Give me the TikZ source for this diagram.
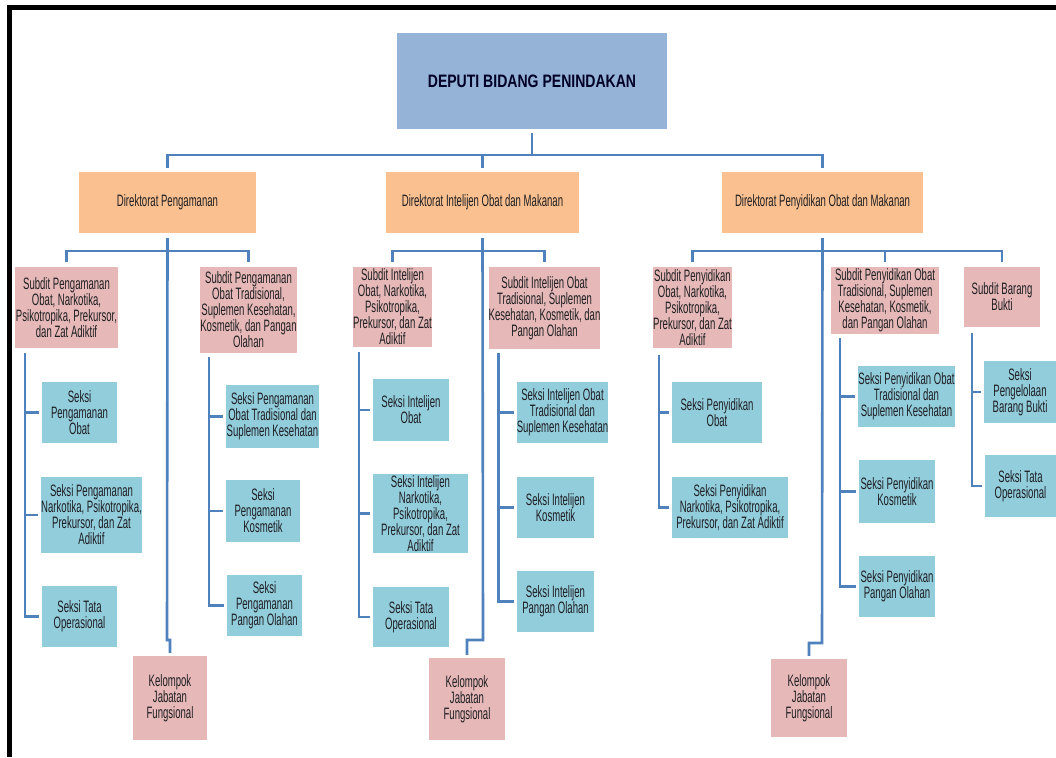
\documentclass[tikz,border=0pt]{standalone}
\usepackage{fontspec}
\setmainfont{Liberation Sans}[FakeStretch=0.58]
\newfontfamily\judulfont{Liberation Sans}[FakeStretch=0.78]
\usepackage{tikz}
\usetikzlibrary{calc,positioning}
\definecolor{cGaris}{RGB}{79,129,189}
\definecolor{cDeputi}{RGB}{149,179,215}
\definecolor{cDir}{RGB}{250,192,143}
\definecolor{cSub}{RGB}{230,185,184}
\definecolor{cSeksi}{RGB}{146,205,220}
\definecolor{cTeks}{RGB}{30,30,34}

\tikzset{
    kotak/.style={inner sep=0pt, align=center, text=cTeks},
    ukuran/.style 2 args={minimum width=#1pt, minimum height=#2pt},
    deputi/.style={kotak, fill=cDeputi, font=\judulfont\bfseries\fontsize{18}{20}\selectfont, text=black!85!blue},
    direktorat/.style={kotak, fill=cDir},
    subdit/.style={kotak, fill=cSub},
    seksi/.style={kotak, fill=cSeksi},
    garis/.style={draw=cGaris, line width=2.6pt}
}

\begin{document}
\begin{tikzpicture}[x=1pt, y=-1pt, font=\fontsize{16.5}{16}\selectfont]
    \useasboundingbox (0,0) rectangle (1056,757);
    \fill[white] (0,0) rectangle (1056,757);
    % bingkai
    \fill[black] (7,5) rectangle (1056,10);
    \fill[black] (7,5) rectangle (12,757);

    % deputi dan direktorat
    \node[deputi, ukuran={270}{96}] (dep) at (532,81) {DEPUTI BIDANG PENINDAKAN};
    \node[direktorat, ukuran={177}{61}] (dirA) at (167.5,202.5) {Direktorat Pengamanan};
    \node[direktorat, ukuran={193}{61}] (dirB) at (482.5,202.5) {Direktorat Intelijen Obat dan Makanan};
    \node[direktorat, ukuran={201}{61}] (dirC) at (822.5,202.5) {Direktorat Penyidikan Obat dan Makanan};

    \coordinate (busDep) at (532,155);
    \draw[garis] ([yshift=-4pt]dep.south) -- (busDep);
    \draw[garis] ([yshift=4pt]dirA.north) |- (busDep) -| ([yshift=4pt]dirC.north);
    \draw[garis] ([yshift=4pt]dirB.north) -- (dirB.north |- busDep);

    % direktorat pengamanan
    \node[subdit, ukuran={103}{81}] (sA1) at (66.5,307.5) {Subdit Pengamanan\\Obat, Narkotika,\\Psikotropika, Prekursor,\\dan Zat Adiktif};
    \node[subdit, ukuran={97}{86}] (sA2) at (248.5,310) {Subdit Pengamanan\\Obat Tradisional,\\Suplemen Kesehatan,\\Kosmetik, dan Pangan\\Olahan};
    \node[seksi, ukuran={75}{61}] (eA1) at (79.5,412.5) {Seksi\\Pengamanan\\Obat};
    \node[seksi, ukuran={99}{76}] (eA2) at (91.5,515) {Seksi Pengamanan\\Narkotika, Psikotropika,\\Prekursor, dan Zat\\Adiktif};
    \node[seksi, ukuran={75}{61}] (eA3) at (79.5,616.5) {Seksi Tata\\Operasional};
    \node[seksi, ukuran={93}{63}] (eA4) at (272.5,416.5) {Seksi Pengamanan\\Obat Tradisional dan\\Suplemen Kesehatan};
    \node[seksi, ukuran={74}{62}] (eA5) at (263,511) {Seksi\\Pengamanan\\Kosmetik};
    \node[seksi, ukuran={75}{61}] (eA6) at (264.5,605.5) {Seksi\\Pengamanan\\Pangan Olahan};
    \node[subdit, ukuran={74}{84}] (kA) at (170,698) {Kelompok\\Jabatan\\Fungsional};

    \coordinate (busA) at (167,251);
    \coordinate (belokA) at (167,640);
    \draw[garis] ([yshift=-5pt]dirA.south) -- (belokA) -| ([yshift=3pt]kA.north);
    \draw[garis] ([yshift=5pt]sA1.north) |- (busA) -| ([yshift=5pt]sA2.north);
    \coordinate (spA1) at ([xshift=10pt,yshift=-5pt]sA1.south west);
    \coordinate (spA2) at ([xshift=9pt,yshift=-4pt]sA2.south west);
    \draw[garis] (spA1) |- ([xshift=-3pt]eA3.west);
    \draw[garis] (spA2) |- ([xshift=-3pt]eA6.west);
    \foreach \s in {eA1,eA2} \draw[garis] (spA1 |- \s.west) -- ([xshift=-3pt]\s.west);
    \foreach \s in {eA4,eA5} \draw[garis] (spA2 |- \s.west) -- ([xshift=-3pt]\s.west);

    % direktorat intelijen
    \node[subdit, ukuran={79}{80}] (sB1) at (392.5,307) {Subdit Intelijen\\Obat, Narkotika,\\Psikotropika,\\Prekursor, dan Zat\\Adiktif};
    \node[subdit, ukuran={111}{82}] (sB2) at (544.5,308) {Subdit Intelijen Obat\\Tradisional, Suplemen\\Kesehatan, Kosmetik, dan\\Pangan Olahan};
    \node[seksi, ukuran={76}{62}] (eB1) at (411,410) {Seksi Intelijen\\Obat};
    \node[seksi, ukuran={95}{79}] (eB2) at (420.5,513.5) {Seksi Intelijen\\Narkotika,\\Psikotropika,\\Prekursor, dan Zat\\Adiktif};
    \node[seksi, ukuran={76}{60}] (eB3) at (411,617) {Seksi Tata\\Operasional};
    \node[seksi, ukuran={91}{61}] (eB4) at (562.5,412.5) {Seksi Intelijen Obat\\Tradisional dan\\Suplemen Kesehatan};
    \node[seksi, ukuran={77}{61}] (eB5) at (555.5,507.5) {Seksi Intelijen\\Kosmetik};
    \node[seksi, ukuran={77}{61}] (eB6) at (555.5,601.5) {Seksi Intelijen\\Pangan Olahan};
    \node[subdit, ukuran={76}{82}] (kB) at (467,699) {Kelompok\\Jabatan\\Fungsional};

    \coordinate (busB) at (483,251);
    \coordinate (belokB) at (483,640);
    \draw[garis] ([yshift=-5pt]dirB.south) -- (belokB) -| ([yshift=3pt]kB.north);
    \draw[garis] ([yshift=5pt]sB1.north) |- (busB) -| ([yshift=5pt]sB2.north);
    \coordinate (spB1) at ([xshift=6pt,yshift=-5pt]sB1.south west);
    \coordinate (spB2) at ([xshift=10pt,yshift=-4pt]sB2.south west);
    \draw[garis] (spB1) |- ([xshift=-3pt]eB3.west);
    \draw[garis] (spB2) |- ([xshift=-3pt]eB6.west);
    \foreach \s in {eB1,eB2} \draw[garis] (spB1 |- \s.west) -- ([xshift=-3pt]\s.west);
    \foreach \s in {eB4,eB5} \draw[garis] (spB2 |- \s.west) -- ([xshift=-3pt]\s.west);

    % direktorat penyidikan
    \node[subdit, ukuran={79}{81}] (sC1) at (692.5,307.5) {Subdit Penyidikan\\Obat, Narkotika,\\Psikotropika,\\Prekursor, dan Zat\\Adiktif};
    \node[subdit, ukuran={108}{67}] (sC2) at (885,300.5) {Subdit Penyidikan Obat\\Tradisional, Suplemen\\Kesehatan, Kosmetik,\\dan Pangan Olahan};
    \node[subdit, ukuran={76}{60}] (sC3) at (1002,297) {Subdit Barang\\Bukti};
    \node[seksi, ukuran={90}{61}] (eC1) at (717,412.5) {Seksi Penyidikan\\Obat};
    \node[seksi, ukuran={116}{61}] (eC2) at (730,507.5) {Seksi Penyidikan\\Narkotika, Psikotropika,\\Prekursor, dan Zat Adiktif};
    \node[seksi, ukuran={95}{61}] (eC3) at (906.5,396.5) {Seksi Penyidikan Obat\\Tradisional dan\\Suplemen Kesehatan};
    \node[seksi, ukuran={76}{63}] (eC4) at (897,491.5) {Seksi Penyidikan\\Kosmetik};
    \node[seksi, ukuran={76}{61}] (eC5) at (897,586.5) {Seksi Penyidikan\\Pangan Olahan};
    \node[seksi, ukuran={72}{62}] (eC6) at (1020,392) {Seksi\\Pengelolaan\\Barang Bukti};
    \node[seksi, ukuran={71}{62}] (eC7) at (1020.5,486) {Seksi Tata\\Operasional};
    \node[subdit, ukuran={76}{78}] (kC) at (809,698) {Kelompok\\Jabatan\\Fungsional};

    \coordinate (busC) at (822,251);
    \coordinate (belokC) at (822,643);
    \draw[garis] ([yshift=-5pt]dirC.south) -- (belokC) -| ([yshift=3pt]kC.north);
    \draw[garis] ([yshift=5pt]sC1.north) |- (busC) -| ([yshift=5pt]sC3.north);
    \draw[garis] ([yshift=5pt]sC2.north) -- (sC2.north |- busC);
    \coordinate (spC1) at ([xshift=6pt,yshift=-7pt]sC1.south west);
    \coordinate (spC2) at ([xshift=9pt,yshift=-4pt]sC2.south west);
    \coordinate (spC3) at ([xshift=8pt,yshift=-6pt]sC3.south west);
    \draw[garis] (spC1) |- ([xshift=-3pt]eC2.west);
    \draw[garis] (spC2) |- ([xshift=-3pt]eC5.west);
    \draw[garis] (spC3) |- ([xshift=-3pt]eC7.west);
    \draw[garis] (spC1 |- eC1.west) -- ([xshift=-3pt]eC1.west);
    \foreach \s in {eC3,eC4} \draw[garis] (spC2 |- \s.west) -- ([xshift=-3pt]\s.west);
    \draw[garis] (spC3 |- eC6.west) -- ([xshift=-3pt]eC6.west);
\end{tikzpicture}
\end{document}
